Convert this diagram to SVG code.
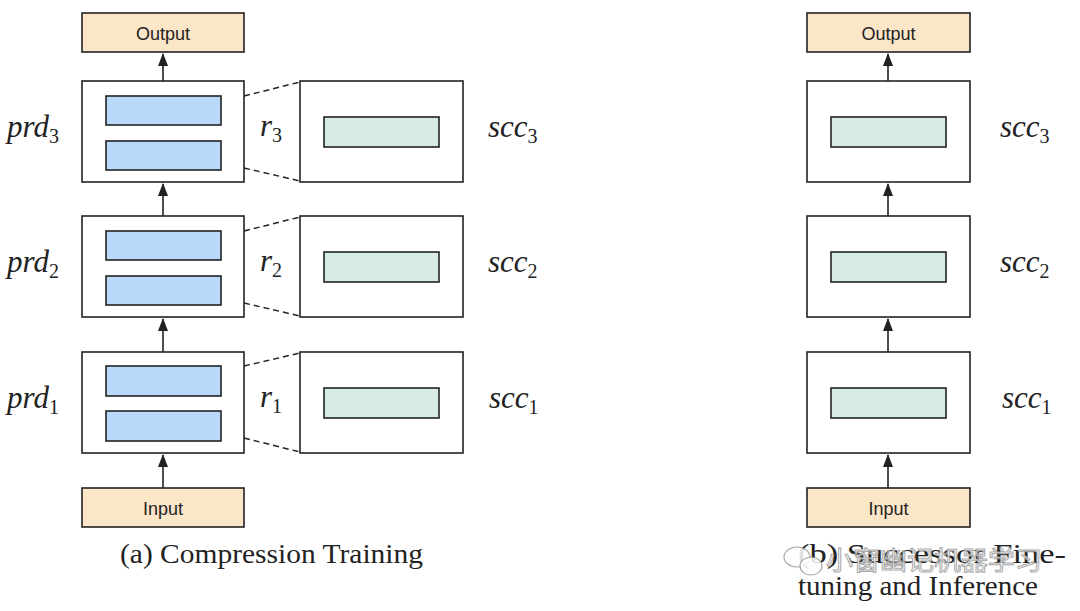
<svg xmlns="http://www.w3.org/2000/svg" width="1080" height="611" viewBox="0 0 1080 611">
<style>
.box{fill:#ffffff;stroke:#222;stroke-width:1.6}
.io{fill:#fce6c8;stroke:#222;stroke-width:1.6}
.blue{fill:#b9d9fa;stroke:#222;stroke-width:1.6}
.green{fill:#d5ebe4;stroke:#222;stroke-width:1.6}
.sans{font-family:"Liberation Sans",Arial,sans-serif;font-size:18px;fill:#222;text-anchor:middle}
.math{font-family:"Liberation Serif","Times New Roman",serif;font-style:italic;font-size:31px;fill:#222}
.sub{font-style:normal;font-size:20px}
.cap{font-family:"Liberation Serif","Times New Roman",serif;font-size:27px;fill:#222}
.arrow{stroke:#222;stroke-width:1.6;fill:none;marker-end:url(#ah)}
.dash{stroke:#222;stroke-width:1.5;fill:none;stroke-dasharray:6 4}
.wm{font-family:"Noto Sans CJK SC",sans-serif;font-size:26px;fill:#ffffff;stroke:#9a9a9a;stroke-width:1;opacity:0.85}
</style>
<defs>
<marker id="ah" viewBox="0 0 13 10" refX="12" refY="5" markerWidth="13" markerHeight="10" markerUnits="userSpaceOnUse" orient="auto">
<path d="M0,0 L13,5 L0,10 Z" fill="#222"/>
</marker>
</defs>
<rect width="1080" height="611" fill="#ffffff"/>

<g id="connectors">
<line class="arrow" x1="163" y1="488" x2="163" y2="455"/>
<line class="arrow" x1="163" y1="352" x2="163" y2="319"/>
<line class="arrow" x1="163" y1="216" x2="163" y2="184"/>
<line class="arrow" x1="163" y1="81" x2="163" y2="54"/>
<line class="arrow" x1="888" y1="488" x2="888" y2="455"/>
<line class="arrow" x1="888" y1="352" x2="888" y2="319"/>
<line class="arrow" x1="888" y1="216" x2="888" y2="184"/>
<line class="arrow" x1="888" y1="81" x2="888" y2="54"/>
<path class="dash" d="M244,96 L300,82"/>
<path class="dash" d="M244,168 L300,181"/>
<path class="dash" d="M244,231 L300,217"/>
<path class="dash" d="M244,303 L300,316"/>
<path class="dash" d="M244,366 L300,353"/>
<path class="dash" d="M244,438 L300,452"/>
</g>

<!-- Left: compression training -->
<g id="a-output"><rect class="io" x="82" y="13" width="162" height="39"/><text class="sans" x="163" y="40">Output</text></g>
<g id="a-input"><rect class="io" x="82" y="488" width="162" height="39"/><text class="sans" x="163" y="515">Input</text></g>

<g id="prd3">
<rect class="box" x="82" y="81" width="162" height="101"/>
<rect class="blue" x="106" y="96" width="115" height="29"/>
<rect class="blue" x="106" y="141" width="115" height="29"/>
<text class="math" x="7" y="137">prd<tspan class="sub" dy="6">3</tspan></text>
</g>
<g id="prd2">
<rect class="box" x="82" y="216" width="162" height="101"/>
<rect class="blue" x="106" y="231" width="115" height="29"/>
<rect class="blue" x="106" y="276" width="115" height="29"/>
<text class="math" x="7" y="272">prd<tspan class="sub" dy="6">2</tspan></text>
</g>
<g id="prd1">
<rect class="box" x="82" y="352" width="162" height="101"/>
<rect class="blue" x="106" y="366" width="115" height="30"/>
<rect class="blue" x="106" y="411" width="115" height="30"/>
<text class="math" x="7" y="408">prd<tspan class="sub" dy="6">1</tspan></text>
</g>

<g id="r-labels">
<text class="math" x="260" y="136">r<tspan class="sub" dy="6">3</tspan></text>
<text class="math" x="260" y="271">r<tspan class="sub" dy="6">2</tspan></text>
<text class="math" x="260" y="407">r<tspan class="sub" dy="6">1</tspan></text>
</g>

<g id="a-scc3">
<rect class="box" x="300" y="81" width="163" height="101"/>
<rect class="green" x="324" y="117" width="115" height="30"/>
<text class="math" x="488" y="137">scc<tspan class="sub" dy="6">3</tspan></text>
</g>
<g id="a-scc2">
<rect class="box" x="300" y="216" width="163" height="101"/>
<rect class="green" x="324" y="252" width="115" height="30"/>
<text class="math" x="488" y="272">scc<tspan class="sub" dy="6">2</tspan></text>
</g>
<g id="a-scc1">
<rect class="box" x="300" y="352" width="163" height="101"/>
<rect class="green" x="324" y="388" width="115" height="30"/>
<text class="math" x="489" y="408">scc<tspan class="sub" dy="6">1</tspan></text>
</g>

<text class="cap" x="120" y="563" textLength="303" lengthAdjust="spacingAndGlyphs">(a) Compression Training</text>

<!-- Right: successor fine-tuning -->
<g id="b-output"><rect class="io" x="807" y="13" width="163" height="39"/><text class="sans" x="888.5" y="40">Output</text></g>
<g id="b-input"><rect class="io" x="807" y="488" width="163" height="39"/><text class="sans" x="888.5" y="515">Input</text></g>
<g id="b-scc3">
<rect class="box" x="807" y="81" width="163" height="101"/>
<rect class="green" x="831" y="117" width="115" height="30"/>
<text class="math" x="1000" y="137">scc<tspan class="sub" dy="6">3</tspan></text>
</g>
<g id="b-scc2">
<rect class="box" x="807" y="216" width="163" height="101"/>
<rect class="green" x="831" y="252" width="115" height="30"/>
<text class="math" x="1000" y="272">scc<tspan class="sub" dy="6">2</tspan></text>
</g>
<g id="b-scc1">
<rect class="box" x="807" y="352" width="163" height="101"/>
<rect class="green" x="831" y="388" width="115" height="30"/>
<text class="math" x="1002" y="408">scc<tspan class="sub" dy="6">1</tspan></text>
</g>

<text class="cap" x="798" y="563" textLength="268" lengthAdjust="spacingAndGlyphs">(b) Successor Fine-</text>
<text class="cap" x="798" y="595" textLength="240" lengthAdjust="spacingAndGlyphs">tuning and Inference</text>

<g id="watermark">
<ellipse cx="797" cy="557" rx="13" ry="10" fill="#ffffff" stroke="#9a9a9a" stroke-width="1.2" opacity="0.85"/>
<ellipse cx="811" cy="566" rx="11" ry="9" fill="#ffffff" stroke="#9a9a9a" stroke-width="1.2" opacity="0.85"/>
<text class="wm" x="826" y="570" textLength="216" lengthAdjust="spacingAndGlyphs">小窗幽记机器学习</text>
</g>
</svg>
